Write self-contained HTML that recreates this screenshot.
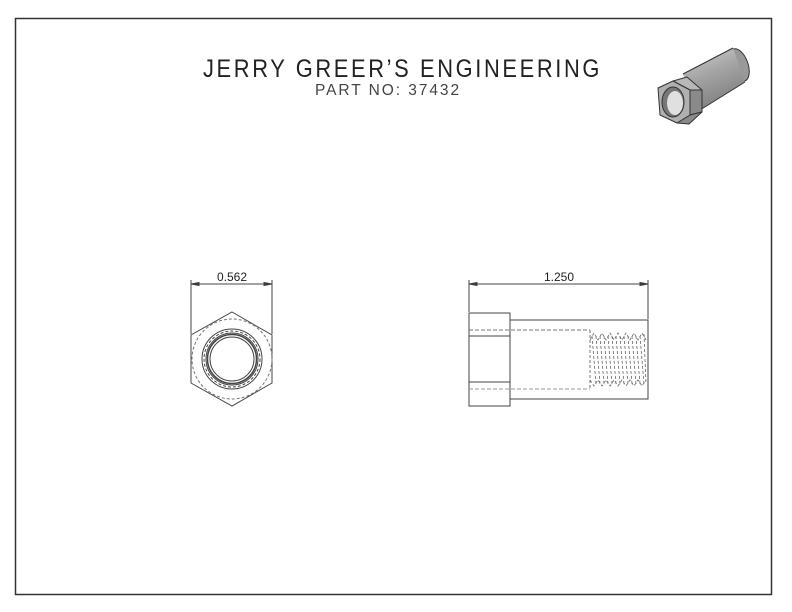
<!DOCTYPE html>
<html><head><meta charset="utf-8"><style>
html,body{margin:0;padding:0;background:#fff;}
svg{display:block;}
</style></head><body>
<svg width="792" height="612" viewBox="0 0 792 612" xmlns="http://www.w3.org/2000/svg">
<rect x="15.5" y="18.5" width="756" height="576" fill="none" stroke="#333" stroke-width="1.5"/>
<text x="203" y="77" font-family="Liberation Sans, sans-serif" font-size="25" fill="#222" textLength="399" lengthAdjust="spacingAndGlyphs" style="letter-spacing:3px">JERRY GREER’S ENGINEERING</text>
<text x="315" y="95" font-family="Liberation Sans, sans-serif" font-size="16" fill="#444" textLength="146" lengthAdjust="spacingAndGlyphs" style="letter-spacing:2px">PART NO: 37432</text>

<g stroke="#444" fill="none" stroke-width="1">
<line x1="191" y1="280" x2="191" y2="334"/>
<line x1="272" y1="280" x2="272" y2="334"/>
<line x1="191" y1="284" x2="272" y2="284"/>
<polygon points="191,284 199,282.5 199,285.5" fill="#333"/>
<polygon points="272,284 264,282.5 264,285.5" fill="#333"/>
<polygon points="232,312 272,335 272,383 232,406 191,383 191,335"/>
<circle cx="232" cy="359" r="40" stroke-dasharray="3,2" stroke="#777"/>
<circle cx="232" cy="359" r="30"/>
<circle cx="232" cy="359" r="28" stroke-dasharray="3,2"/>
<circle cx="232" cy="359" r="26"/>
<circle cx="232" cy="359" r="24.5" stroke-width="1.5"/>
<circle cx="232" cy="359" r="22"/>

<line x1="469" y1="280" x2="469" y2="312"/>
<line x1="648" y1="280" x2="648" y2="319"/>
<line x1="469" y1="284" x2="648" y2="284"/>
<polygon points="469,284 477,282.5 477,285.5" fill="#333"/>
<polygon points="648,284 640,282.5 640,285.5" fill="#333"/>
<rect x="469" y="313" width="41" height="93"/>
<line x1="469" y1="336" x2="510" y2="336"/>
<line x1="469" y1="382" x2="510" y2="382"/>
<polyline points="510,320 648,320 648,399 510,399"/>
<line x1="469" y1="330" x2="590" y2="330" stroke-dasharray="4,2" stroke="#777"/>
<line x1="469" y1="389" x2="590" y2="389" stroke-dasharray="4,2" stroke="#999"/>
<line x1="590" y1="330" x2="590" y2="389" stroke-dasharray="3,2" stroke="#777"/>
<g stroke-dasharray="3,2" stroke="#666" stroke-width="0.8">
<polyline points="590,340 594,333 598,340 602,333 606,340 610,333 614,340 618,333 622,340 626,333 630,340 634,333 638,340 642,333 646,340"/>
<polyline points="590,380 594,386 598,380 602,386 606,380 610,386 614,380 618,386 622,380 626,386 630,380 634,386 638,380 642,386 646,380"/>
<line x1="592" y1="336" x2="596" y2="384"/><line x1="596" y1="336" x2="600" y2="384"/>
<line x1="600" y1="336" x2="604" y2="384"/><line x1="604" y1="336" x2="608" y2="384"/>
<line x1="608" y1="336" x2="612" y2="384"/><line x1="612" y1="336" x2="616" y2="384"/>
<line x1="616" y1="336" x2="620" y2="384"/><line x1="620" y1="336" x2="624" y2="384"/>
<line x1="624" y1="336" x2="628" y2="384"/><line x1="628" y1="336" x2="632" y2="384"/>
<line x1="632" y1="336" x2="636" y2="384"/><line x1="636" y1="336" x2="640" y2="384"/>
<line x1="640" y1="336" x2="644" y2="384"/><line x1="644" y1="334" x2="646" y2="384"/>
</g>
</g>
<text x="232" y="281" font-family="Liberation Sans, sans-serif" font-size="12" fill="#222" text-anchor="middle">0.562</text>
<text x="559" y="281" font-family="Liberation Sans, sans-serif" font-size="12" fill="#222" text-anchor="middle">1.250</text>

<defs>
<linearGradient id="cyl" x1="0" y1="0" x2="0.4" y2="1">
<stop offset="0" stop-color="#d0d0d0"/><stop offset="0.5" stop-color="#a4a4a4"/><stop offset="1" stop-color="#808080"/>
</linearGradient>
</defs>
<g stroke="#333" stroke-width="1" stroke-linejoin="round">
<ellipse cx="739" cy="65" rx="9" ry="17" transform="rotate(-20 739 65)" fill="#999"/>
<polygon points="683,74 733,48 745,82 700,110" fill="url(#cyl)" stroke="none"/>
<line x1="683" y1="74" x2="733" y2="48"/>
<line x1="700" y1="110" x2="745" y2="82"/>
<polygon points="673,81 687,77 702,90 690,90" fill="#b8b8b8"/>
<polygon points="690,90 702,90 702,112 690,115" fill="#8a8a8a"/>
<polygon points="690,115 702,112 689,124 677,123" fill="#8a8a8a"/>
<polygon points="658,88 673,81 690,90 690,115 677,123 660,115" fill="#b0b0b0"/>
<ellipse cx="673" cy="102" rx="11" ry="15" fill="#777"/>
<ellipse cx="675" cy="103" rx="8" ry="12" fill="#e0e0e0" stroke="none"/>
</g>
</svg>
</body></html>
